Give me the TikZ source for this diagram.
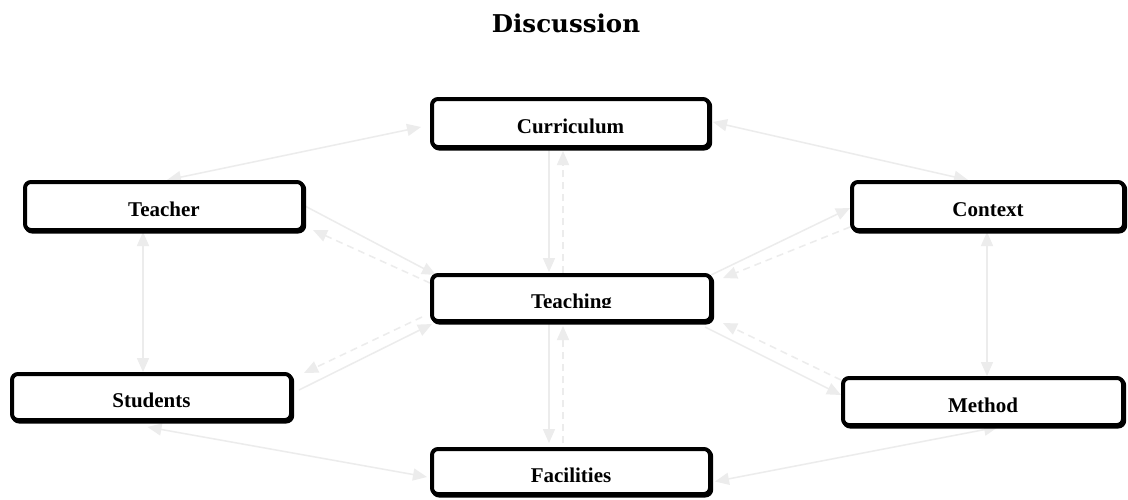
\documentclass[tikz,border=0pt]{standalone}
\usepackage{fontspec}
\setmainfont{Liberation Serif}
\newfontfamily\titlefont{DejaVu Serif}
\usetikzlibrary{arrows.meta,shadows}
\pgfdeclarelayer{bg}
\pgfsetlayers{bg,main}
\definecolor{linegrey}{RGB}{236,236,236}

\begin{document}
\begin{tikzpicture}[x=1pt,y=-1pt,
  box/.style={draw=black, line width=4pt, rounded corners=6pt, fill=white,
    inner sep=0pt, text height=21pt, text depth=0pt,
    font=\fontsize{21}{25}\selectfont\bfseries,
    drop shadow={shadow xshift=1.2pt, shadow yshift=-1.5pt, draw=black,
      fill=black, line width=4pt, opacity=1}},
  boxtext/.style={inner sep=0pt, text height=21pt, text depth=0pt,
    font=\fontsize{21}{25}\selectfont\bfseries},
  conn/.style={draw=linegrey, line width=1.5pt,
    >={Triangle[length=14pt,width=12pt]}},
  dconn/.style={conn, dash pattern=on 7pt off 5pt}]

\useasboundingbox (0,0) rectangle (1128,499);

% title
\node[font=\titlefont\fontsize{24.5}{29}\selectfont\bfseries] (title) at (566,23) {Discussion};

% boxes
\node[box, minimum width=277pt, minimum height=48pt] (curriculum) at (570.5,123) {Curriculum};
\node[box, minimum width=278pt, minimum height=48pt] (teacher) at (164,206) {Teacher};
\node[box, minimum width=272pt, minimum height=48pt] (context) at (988,206) {Context};
\node[box, minimum width=279pt, minimum height=46pt] (teaching) at (571.5,298) {};
\node[box, minimum width=279pt, minimum height=46pt] (students) at (151.5,397) {Students};
\node[box, minimum width=280pt, minimum height=47pt] (method) at (983,401.5) {Method};
\node[box, minimum width=278pt, minimum height=45pt] (facilities) at (571,471.5) {Facilities};

% the label of the central box is cut off at its baseline
\begin{scope}
  \clip (430,280) rectangle (713,307.5);
  \node[boxtext] (teachinglabel) at (teaching.center) {Teaching};
\end{scope}

% connectors, kept underneath the boxes
\begin{pgfonlayer}{bg}
\fill[white] (0,0) rectangle (1128,499);
\draw[conn,<->] ([shift={(3,0)}]teacher.north) -- ([shift={(-9,4)}]curriculum.west);
\draw[conn,<->] ([shift={(2,-1)}]curriculum.east) -- ([shift={(-20,0)}]context.north);
\draw[conn,->] ([shift={(-21.5,0)}]curriculum.south) -- ([shift={(-22.5,-1)}]teaching.north);
\draw[dconn,->] ([shift={(-8.5,0)}]teaching.north) -- ([shift={(-7.5,2)}]curriculum.south);
\draw[conn,->] (teacher.east) -- ([shift={(6,2)}]teaching.north west);
\draw[dconn,->] ([shift={(0,-15)}]teaching.west) -- ([shift={(8,-2)}]teacher.south east);
\draw[conn,->] ([shift={(-2,2)}]teaching.north east) -- ([shift={(0,2)}]context.west);
\draw[dconn,->] ([shift={(0,21)}]context.west) -- ([shift={(10,5)}]teaching.north east);
\draw[conn,<->] ([shift={(-21,0)}]teacher.south) -- ([shift={(-8.5,0)}]students.north);
\draw[conn,<->] ([shift={(-1,0)}]context.south) -- ([shift={(4,0)}]method.north);
\draw[conn,->] ([shift={(6,-7)}]students.east) -- ([shift={(2,1)}]teaching.south west);
\draw[dconn,->] ([shift={(-8,-6)}]teaching.south west) -- ([shift={(11,1)}]students.north east);
\draw[conn,->] ([shift={(-8,4)}]teaching.south east) -- ([shift={(0,-6.5)}]method.west);
\draw[dconn,->] ([shift={(0,4)}]method.north west) -- ([shift={(10,0)}]teaching.south east);
\draw[conn,->] ([shift={(-22.5,0)}]teaching.south) -- ([shift={(-22,-4)}]facilities.north);
\draw[dconn,->] ([shift={(-8,-4)}]facilities.north) -- ([shift={(-8.5,3)}]teaching.south);
\draw[conn,<->] ([shift={(-4,5)}]students.south) -- ([shift={(-3,5.5)}]facilities.west);
\draw[conn,<->] ([shift={(15,0)}]method.south) -- ([shift={(3,10)}]facilities.east);
\end{pgfonlayer}

\end{tikzpicture}
\end{document}
